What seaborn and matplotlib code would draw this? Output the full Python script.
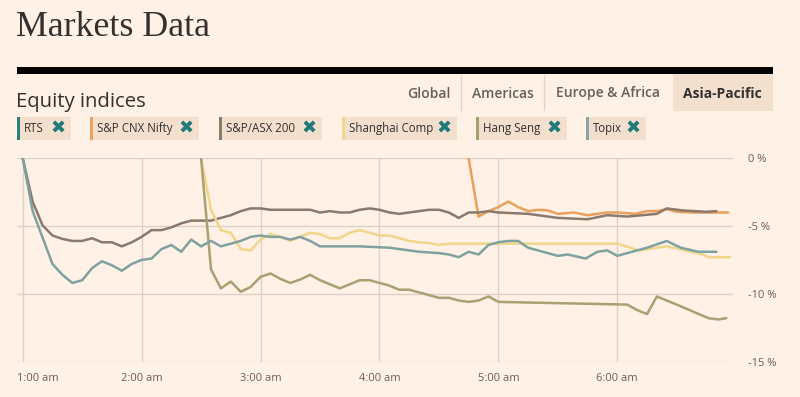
import matplotlib
matplotlib.use("Agg")
import matplotlib.pyplot as plt
from matplotlib.patches import Rectangle
from matplotlib.transforms import ScaledTranslation
import seaborn as sns
import pandas as pd

# ---------------- data (minutes after 1:00 am, % change) ----------------
hour_ticks = [0, 60, 120, 180, 240, 300]
hour_labels = ["1:00 am", "2:00 am", "3:00 am", "4:00 am", "5:00 am", "6:00 am"]
pct_ticks = [0, -5, -10, -15]
pct_labels = ["0 %", "-5 %", "-10 %", "-15 %"]

legend_names = ["RTS", "S&P CNX Nifty", "S&P/ASX 200", "Shanghai Comp", "Hang Seng", "Topix"]

asx_t = [0, 5, 10, 15, 20, 25, 30, 35, 40, 45, 50, 55, 60, 65, 70, 75, 80, 85, 90, 95,
         100, 105, 110, 115, 120, 125, 130, 135, 140, 145, 150, 155, 160, 165, 170, 175,
         180, 185, 190, 195, 200, 205, 210, 215, 220, 225, 230, 235, 240, 255, 270, 285,
         295, 305, 320, 325, 333, 345, 350]
asx_v = [0, -3.2, -4.95, -5.7, -5.95, -6.1, -6.1, -5.9, -6.2, -6.2, -6.5, -6.2, -5.8, -5.3,
         -5.3, -5.1, -4.8, -4.6, -4.6, -4.6, -4.4, -4.2, -3.9, -3.7, -3.7, -3.8, -3.8, -3.8,
         -3.8, -3.8, -4.0, -3.9, -4.0, -4.0, -3.8, -3.7, -3.8, -4.0, -4.1, -4.0, -3.9, -3.8,
         -3.8, -4.0, -4.4, -4.0, -4.0, -3.9, -4.0, -4.1, -4.4, -4.5, -4.2, -4.3, -4.1, -3.7,
         -3.85, -3.95, -3.9]

topix_t = [0, 5, 15, 20, 25, 30, 35, 40, 45, 50, 55, 60, 65, 70, 75, 80, 85, 90, 95, 100,
           105, 110, 115, 120, 125, 130, 135, 140, 145, 150, 170, 185, 190, 200, 210, 215,
           220, 225, 230, 235, 240, 245, 250, 255, 260, 270, 275, 284, 290, 295, 300, 310,
           315, 325, 332, 341, 350]
topix_v = [0, -3.9, -7.8, -8.6, -9.2, -9.0, -8.1, -7.6, -7.9, -8.3, -7.8, -7.5, -7.4, -6.7,
           -6.4, -6.9, -6.0, -6.5, -6.1, -6.5, -6.3, -6.1, -5.8, -5.7, -5.8, -5.8, -6.0, -5.8,
           -6.1, -6.5, -6.5, -6.6, -6.7, -6.9, -7.0, -7.1, -7.3, -6.9, -7.1, -6.4, -6.2, -6.1,
           -6.1, -6.6, -6.8, -7.2, -7.1, -7.4, -6.9, -6.8, -7.2, -6.8, -6.6, -6.1, -6.6, -6.9,
           -6.9]

shanghai_t = [90, 95, 100, 105, 110, 115, 120, 125, 130, 135, 140, 145, 150, 155, 160, 165,
              170, 175, 180, 185, 190, 195, 200, 205, 210, 215, 300, 311, 325, 343, 346, 357]
shanghai_v = [0, -3.8, -5.3, -5.5, -6.7, -6.8, -6.0, -5.6, -5.8, -6.1, -5.8, -5.5, -5.6,
              -5.9, -5.9, -5.5, -5.3, -5.5, -5.7, -5.7, -5.9, -6.1, -6.2, -6.25, -6.4, -6.3,
              -6.3, -6.8, -6.5, -7.1, -7.3, -7.3]

hangseng_t = [90, 95, 100, 105, 110, 115, 120, 125, 130, 135, 140, 145, 150, 155, 160, 165,
              170, 175, 180, 185, 190, 195, 200, 205, 210, 215, 220, 225, 230, 235, 240, 305,
              310, 315, 320, 330, 338, 346, 351, 355]
hangseng_v = [0, -8.2, -9.6, -9.1, -9.85, -9.5, -8.75, -8.5, -8.9, -9.2, -8.95, -8.6, -9.0,
              -9.3, -9.6, -9.3, -9.0, -9.0, -9.2, -9.4, -9.7, -9.7, -9.9, -10.1, -10.3, -10.3,
              -10.5, -10.6, -10.5, -10.2, -10.6, -10.8, -11.2, -11.5, -10.2, -10.8, -11.3,
              -11.8, -11.9, -11.8]

nifty_t = [225, 230, 235, 240, 245, 250, 255, 260, 265, 270, 278, 285, 295, 300, 309, 315,
           320, 325, 330, 338, 345, 356]
nifty_v = [0, -4.3, -3.9, -3.6, -3.2, -3.6, -3.9, -3.8, -3.85, -4.1, -4.0, -4.2, -4.0, -4.0,
           -4.1, -3.9, -3.9, -3.75, -3.95, -4.0, -4.0, -4.0]

rts_t = []
rts_v = []

# ---------------- styling ----------------
BG = "#fff1e5"
PILL = "#f2dfce"
GRID = "#ddd1c6"
TXT = "#33302e"
MUTED = "#66605a"
line_colors = {"RTS": "#2b7f7a", "S&P CNX Nifty": "#eaa05a", "S&P/ASX 200": "#8a7a6b",
               "Shanghai Comp": "#f0d68a", "Hang Seng": "#a9a073", "Topix": "#7fa2a0"}
bar_colors = {"RTS": "#2b7f7a", "S&P CNX Nifty": "#eba25e", "S&P/ASX 200": "#8c7a6a",
              "Shanghai Comp": "#eed98d", "Hang Seng": "#a89e6a", "Topix": "#8aa5a3"}

series = {"RTS": (rts_t, rts_v), "S&P CNX Nifty": (nifty_t, nifty_v),
          "S&P/ASX 200": (asx_t, asx_v), "Shanghai Comp": (shanghai_t, shanghai_v),
          "Hang Seng": (hangseng_t, hangseng_v), "Topix": (topix_t, topix_v)}
rows = []
for name, (ts, vs) in series.items():
    for t, v in zip(ts, vs):
        rows.append({"minute": t, "pct": v, "index": name})
df = pd.DataFrame(rows)

sns.set_theme(style="white")
plt.rcParams["font.family"] = ["Open Sans", "DejaVu Sans"]

W, H = 800, 397
fig = plt.figure(figsize=(W / 100, H / 100), dpi=100)
fig.patch.set_facecolor(BG)

def fx(px):
    return px / W

def fy(py):
    return 1 - py / H

# Title
fig.text(fx(16), fy(36), "Markets Data", family=["Liberation Serif", "DejaVu Serif"],
         fontsize=25.8, color=TXT, va="baseline", ha="left")
# Black rule
fig.add_artist(Rectangle((fx(17), fy(73.5)), fx(773) - fx(17), 6.5 / H,
                         transform=fig.transFigure, color="black", lw=0))
# Section title
fig.text(fx(16), fy(107.5), "Equity indices", fontsize=14.6, color=TXT, va="baseline", ha="left")

# Tabs
fig.add_artist(Rectangle((fx(672.7), fy(111)), fx(772.7) - fx(672.7), 37 / H,
                         transform=fig.transFigure, color=PILL, lw=0))
for sx in [461, 544.3]:
    fig.add_artist(plt.Line2D([fx(sx), fx(sx)], [fy(75), fy(110)], transform=fig.transFigure,
                              color="#e3d3c4", lw=1))
tabs = [("Global", 428.5, False), ("Americas", 502.5, False),
        ("Europe & Africa", 608.5, False), ("Asia-Pacific", 722.7, True)]
for label, cx, active in tabs:
    fig.text(fx(cx), fy(93.5), label, fontsize=10, ha="center", va="center",
             color=TXT if active else MUTED, weight="bold" if active else "semibold")

# Legend pills
pills = [(17, 71), (90, 199), (219, 322), (342, 457), (476, 567), (586, 646)]
for name, (x0, x1) in zip(legend_names, pills):
    fig.add_artist(Rectangle((fx(x0), fy(140)), fx(x1) - fx(x0), 23 / H,
                             transform=fig.transFigure, color=PILL, lw=0))
    fig.add_artist(Rectangle((fx(x0), fy(140)), 2.5 / W, 23 / H,
                             transform=fig.transFigure, color=bar_colors[name], lw=0))
    fig.text(fx(x0 + 7), fy(128.5), name, fontsize=8.3, color=TXT, ha="left", va="center")
    fig.text(fx(x1 - 12.5), fy(129), "\u2716", family="DejaVu Sans", fontsize=13,
             color="#1f7a78", ha="center", va="center")

# Chart axes
ax = fig.add_axes([fx(17), fy(361.5), fx(733) - fx(17), (361.5 - 158.3) / H])
ax.set_facecolor(BG)
for s in ax.spines.values():
    s.set_visible(False)
for v in pct_ticks:
    ax.axhline(v, color=GRID, lw=1, zorder=0)
for t in hour_ticks:
    ax.axvline(t, color=GRID, lw=1, zorder=0)

sns.lineplot(data=df, x="minute", y="pct", hue="index", hue_order=legend_names,
             palette=line_colors, estimator=None, sort=True, linewidth=1.8, ax=ax,
             legend=False)

ax.set_xlim(-2.9, 358.4)
ax.set_ylim(-15, 0)
ax.set_xlabel("")
ax.set_ylabel("")
ax.yaxis.tick_right()
ax.set_yticks(pct_ticks)
ax.set_yticklabels(pct_labels)
ax.set_xticks(hour_ticks)
ax.set_xticklabels(hour_labels)
ax.tick_params(axis="y", length=0, pad=10.5, labelsize=8, labelcolor=MUTED)
ax.tick_params(axis="x", length=0, pad=8, labelsize=8, labelcolor=MUTED)
first = ax.get_xticklabels()[0]
first.set_ha("left")
first.set_transform(first.get_transform() + ScaledTranslation(-0.057, 0, fig.dpi_scale_trans))

fig.savefig("out.png", dpi=100, facecolor=BG)
